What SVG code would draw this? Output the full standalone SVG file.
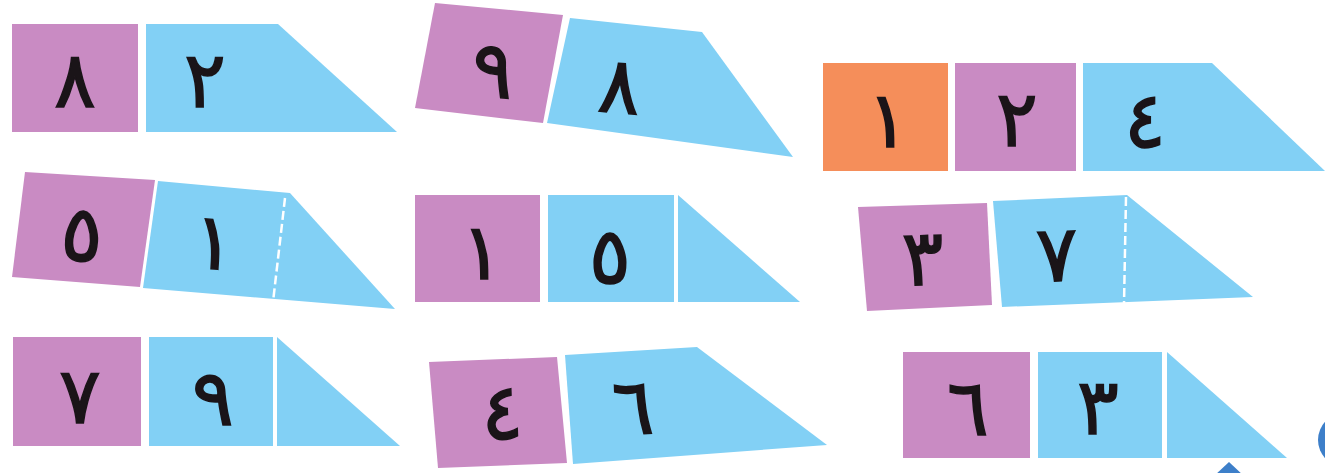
<svg xmlns="http://www.w3.org/2000/svg" width="1325" height="473" viewBox="0 0 1325 473">
<style>
.p{fill:#c98bc3}
.b{fill:#82d0f5}
.o{fill:#f58e5a}
.d{font-family:"DejaVu Sans",sans-serif;font-size:78px;font-weight:normal;fill:#1a1418;stroke:#1a1418;stroke-width:1.5;text-anchor:middle;dominant-baseline:central}
.dash{stroke:#ffffff;stroke-width:2.5;stroke-dasharray:9 4;fill:none}
</style>
<rect width="1325" height="473" fill="#ffffff"/>
<g id="shape1">
<rect class="p" x="12" y="24" width="126" height="108"/>
<polygon class="b" points="146,24 278,24 397,132 146,132"/>
<text class="d" x="75" y="80">٨</text>
<text class="d" x="205" y="80">٢</text>
</g>
<g id="shape2">
<polygon class="p" points="435,3 563,15 543,123 415,108"/>
<polygon class="b" points="570,18 702,32 793,157 547,123"/>
<text class="d" x="493" y="70" transform="rotate(5 493 70)">٩</text>
<text class="d" x="620" y="86" transform="rotate(5 620 86)">٨</text>
</g>
<g id="shape3">
<rect class="o" x="823" y="63" width="125" height="108"/>
<rect class="p" x="955" y="63" width="121" height="108"/>
<polygon class="b" points="1083,63 1212,63 1325,171 1083,171"/>
<text class="d" x="888" y="120">١</text>
<text class="d" x="1017" y="119">٢</text>
<text class="d" x="1145" y="120">٤</text>
</g>
<g id="shape4">
<polygon class="p" points="25,172 155,180 140,287 12,277"/>
<polygon class="b" points="158,181 290,193 395,309 143,288"/>
<line class="dash" x1="285" y1="198" x2="273" y2="302"/>
<text class="d" x="82" y="234" transform="rotate(4 82 234)">٥</text>
<text class="d" x="214" y="242" transform="rotate(4 214 242)">١</text>
</g>
<g id="shape5">
<rect class="p" x="415" y="195" width="125" height="107"/>
<rect class="b" x="548" y="195" width="126" height="107"/>
<polygon class="b" points="678,195 800,302 678,302"/>
<text class="d" x="482" y="252">١</text>
<text class="d" x="610" y="256">٥</text>
</g>
<g id="shape6">
<polygon class="p" points="858,207 987,203 992,305 867,311"/>
<polygon class="b" points="993,201 1127,195 1253,297 1002,307"/>
<line class="dash" x1="1126" y1="197" x2="1124" y2="304"/>
<text class="d" x="923" y="258" transform="rotate(-2 923 258)">٣</text>
<text class="d" x="1057" y="254" transform="rotate(-2 1057 254)">٧</text>
</g>
<g id="shape7">
<rect class="p" x="13" y="337" width="128" height="109"/>
<rect class="b" x="149" y="337" width="124" height="109"/>
<polygon class="b" points="277,337 400,446 277,446"/>
<text class="d" x="80" y="396">٧</text>
<text class="d" x="213" y="398">٩</text>
</g>
<g id="shape8">
<polygon class="p" points="429,362 557,357 567,463 438,468"/>
<polygon class="b" points="565,355 697,347 827,445 573,464"/>
<text class="d" x="502" y="412" transform="rotate(-2 502 412)">٤</text>
<text class="d" x="633" y="407" transform="rotate(-2 633 407)">٦</text>
</g>
<g id="shape9">
<rect class="p" x="903" y="352" width="127" height="106"/>
<rect class="b" x="1038" y="352" width="124" height="106"/>
<polygon class="b" points="1167,352 1287,458 1167,458"/>
<text class="d" x="968" y="408">٦</text>
<text class="d" x="1098" y="407">٣</text>
</g>
<g id="decor">
<polygon points="1229,462 1214,476 1244,476" fill="#3d7fc9"/>
<circle cx="1345" cy="440" r="27" fill="#3d7fc9"/>
</g>
</svg>
